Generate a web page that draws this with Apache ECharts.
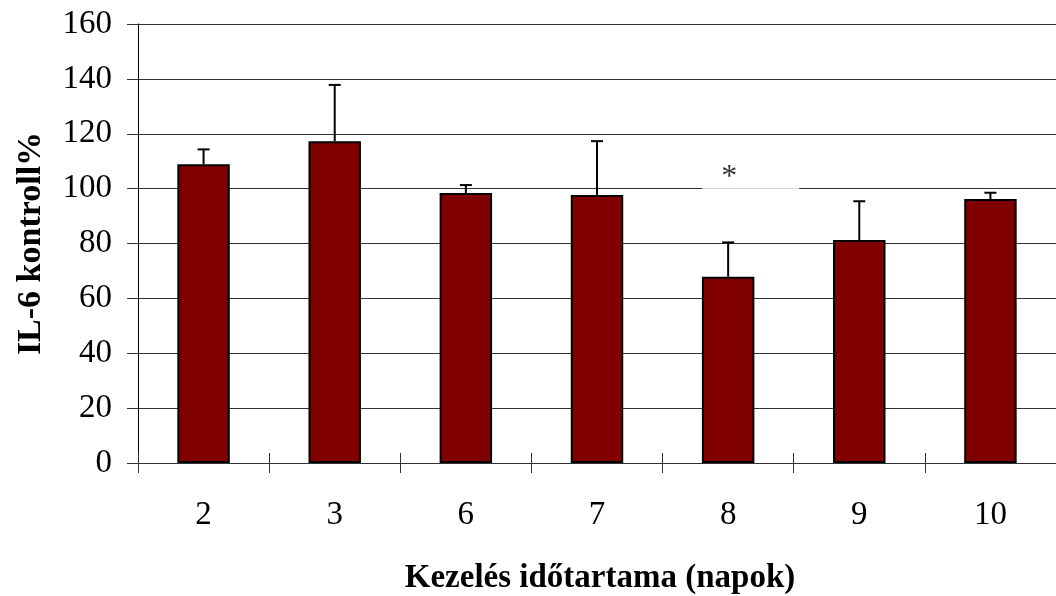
<!DOCTYPE html>
<html>
<head>
<meta charset="utf-8">
<script src="https://cdn.jsdelivr.net/npm/echarts@6/dist/echarts.min.js"></script>
<style>
html,body{margin:0;padding:0;background:#fff;}
#c{width:1056px;height:596px;}
</style>
</head>
<body>
<div id="c"></div>
<script>
var categories = ['2', '3', '6', '7', '8', '9', '10'];
var means = [108.9, 117.3, 98.4, 97.7, 67.9, 81.3, 96.2];
var errTops = [114.3, 137.8, 101.3, 117.3, 80.4, 95.4, 98.5];
var yTicks = [0, 20, 40, 60, 80, 100, 120, 140, 160];
var sigCategory = '8';
var sigLevel = 100;
var sigMark = '*';

var FONT = '"Liberation Serif", "Times New Roman", serif';
var chart = echarts.init(document.getElementById('c'));

var errData = categories.map(function (c, i) { return [i, means[i], errTops[i]]; });

chart.setOption({
  animation: false,
  backgroundColor: '#fff',
  grid: { left: 138, right: -3, top: 24, bottom: 133, containLabel: false },
  xAxis: [{
    type: 'category',
    data: categories,
    boundaryGap: true,
    axisLine: { lineStyle: { color: '#333', width: 1 } },
    axisTick: { show: true, length: 10, lineStyle: { color: '#333' } },
    axisLabel: { fontFamily: FONT, fontSize: 33, color: '#000', margin: 36 },
    splitLine: { show: false }
  }, {
    type: 'category',
    data: categories,
    position: 'bottom',
    boundaryGap: true,
    axisLine: { show: false },
    axisTick: { show: true, inside: true, length: 10, lineStyle: { color: '#333' } },
    axisLabel: { show: false },
    splitLine: { show: false }
  }],
  yAxis: {
    type: 'value',
    min: yTicks[0],
    max: yTicks[yTicks.length - 1],
    interval: 20,
    name: 'IL-6 kontroll%',
    nameLocation: 'middle',
    nameGap: 90,
    nameTextStyle: { fontFamily: FONT, fontSize: 34, fontWeight: 'bold', color: '#000' },
    axisLine: { show: true, lineStyle: { color: '#000', width: 1 } },
    axisTick: { show: true, length: 11, lineStyle: { color: '#333' } },
    axisLabel: { fontFamily: FONT, fontSize: 33, color: '#000', margin: 26 },
    splitLine: { show: true, lineStyle: { color: '#333', width: 1 } }
  },
  graphic: [{
    type: 'text',
    x: 600,
    y: 562,
    style: {
      text: 'Kezelés időtartama (napok)',
      font: 'bold 33px ' + FONT,
      fill: '#000',
      textAlign: 'center'
    }
  }],
  series: [{
    type: 'bar',
    data: means,
    barCategoryGap: '60%',
    itemStyle: { color: '#800000', borderColor: '#000', borderWidth: 2 },
    z: 2
  }, {
    type: 'custom',
    data: errData,
    z: 3,
    renderItem: function (params, api) {
      var x = api.value(0);
      var base = api.coord([x, api.value(1)]);
      var top = api.coord([x, api.value(2)]);
      var hw = 6;
      return {
        type: 'group',
        children: [{
          type: 'line',
          shape: { x1: base[0], y1: base[1], x2: top[0], y2: top[1] },
          style: { stroke: '#000', lineWidth: 2 }
        }, {
          type: 'line',
          shape: { x1: top[0] - hw, y1: top[1], x2: top[0] + hw, y2: top[1] },
          style: { stroke: '#000', lineWidth: 2 }
        }]
      };
    }
  }, {
    type: 'scatter',
    data: [[sigCategory, sigLevel]],
    symbolSize: 0,
    z: 4,
    label: {
      show: true,
      formatter: sigMark,
      position: 'inside',
      offset: [22.5, -11.5],
      fontFamily: FONT,
      fontSize: 32,
      lineHeight: 30,
      color: '#000',
      backgroundColor: '#fff',
      padding: [2, 62, 4, 19]
    }
  }]
});
</script>
</body>
</html>
